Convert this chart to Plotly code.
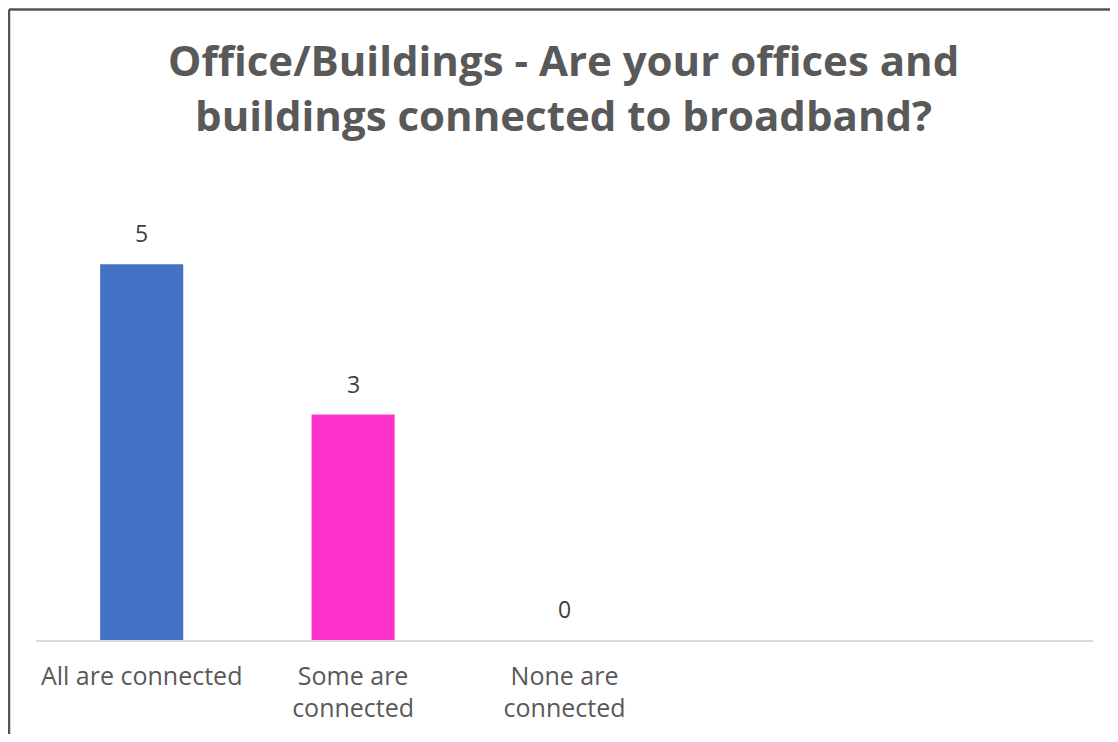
import plotly.graph_objects as go

# dados
categorias = ["All are connected", "Some are<br>connected", "None are<br>connected"]
valores = [5, 3, 0]
cores = ["#4472C4", "#FF33CC", "#A5A5A5"]

# a página tem 8px de margem no body, então a figura é um pouco menor
W, H = 1102, 726

fig = go.Figure()

fig.add_trace(go.Bar(
    x=categorias,
    y=valores,
    marker=dict(color=cores, line=dict(width=0)),
    width=0.393,
    hoverinfo="x+y",
))

# rótulos de dados acima das barras
for cat, v in zip(categorias, valores):
    fig.add_annotation(
        x=cat, y=v, xref="x", yref="y",
        text=str(v), showarrow=False,
        yanchor="bottom", yshift=13,
        font=dict(family="Open Sans", size=23, color="#404040"),
    )

# título (anotação para controlar bem as duas linhas)
fig.add_annotation(
    xref="paper", yref="paper", x=555 / W, y=1 - 21 / H,
    xanchor="center", yanchor="top",
    text="<b>Office/Buildings - Are your offices and<br>buildings connected to broadband?</b>",
    showarrow=False, align="center",
    font=dict(family="Open Sans", size=42, color="#595959"),
)

fig.update_layout(
    width=W,
    height=H,
    margin=dict(l=0, r=0, t=0, b=0),
    paper_bgcolor="white",
    plot_bgcolor="white",
    showlegend=False,
    # moldura (só topo e esquerda aparecem no recorte)
    shapes=[
        dict(type="line", xref="paper", yref="paper", x0=1 / W, x1=1, y0=1 - 1.5 / H, y1=1 - 1.5 / H,
             line=dict(color="#555555", width=2.5)),
        dict(type="line", xref="paper", yref="paper", x0=1 / W, x1=1 / W, y0=0, y1=1 - 1.5 / H,
             line=dict(color="#555555", width=2.5)),
    ],
)

fig.update_xaxes(
    domain=[28 / W, 1085 / W],
    range=[-0.5, 4.5],
    showline=True,
    linecolor="#D9D9D9",
    linewidth=1.5,
    showgrid=False,
    ticks="outside",
    ticklen=13,
    tickcolor="rgba(0,0,0,0)",
    tickfont=dict(family="Open Sans", size=25, color="#595959"),
)

fig.update_yaxes(
    domain=[1 - 632 / H, 1 - 181 / H],
    range=[0, 6],
    visible=False,
)

fig.write_html("out.html")
